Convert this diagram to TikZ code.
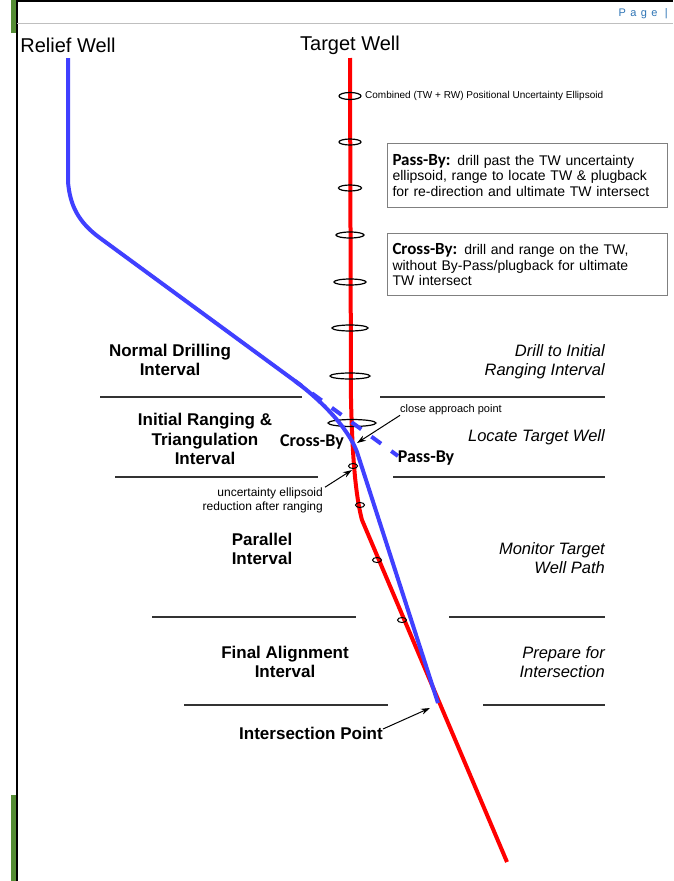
\documentclass[tikz,border=0pt]{standalone}
\usepackage{fontspec}
\setmainfont{Liberation Sans}
\newfontfamily\calibri{Carlito}
\usetikzlibrary{arrows.meta}
\definecolor{reliefblue}{RGB}{64,64,255}
\definecolor{targetred}{RGB}{255,0,0}
\definecolor{pagegreen}{RGB}{84,140,52}
\definecolor{pageblue}{RGB}{46,116,181}

\begin{document}
\begin{tikzpicture}[x=1pt, y=-1pt, inner sep=0pt,
  title/.style={font=\fontsize{20}{24}\selectfont},
  phase/.style={font=\bfseries\fontsize{17}{19.5}\selectfont, align=center},
  task/.style={font=\itshape\fontsize{16.5}{19}\selectfont, align=right, anchor=east},
  note/.style={font=\fontsize{12}{14}\selectfont},
  method/.style={font=\calibri\bfseries\fontsize{18}{20}\selectfont},
  infobox/.style={draw=gray, line width=1pt, anchor=north west, text width=270pt,
    inner xsep=5pt, inner ysep=4pt, align=left, font=\fontsize{14}{15.5}\selectfont},
  divider/.style={line width=1.2pt, black!80},
  well/.style={line width=4pt},
  unc/.style={line width=1.2pt},
  pointer/.style={-{Stealth[length=9pt,width=6pt]}, line width=1pt}]
  \useasboundingbox (0,0) rectangle (673,881);

  % page edge
  \fill[pagegreen] (11,0) rectangle (16,33);
  \fill[pagegreen] (11,795) rectangle (16,881);
  \draw[line width=1.5pt] (17,0) -- (17,881);
  \draw[line width=1.5pt] (17,1) -- (673,1);
  \draw[black!25, line width=1pt] (17,23) -- (673,23);
  \node[anchor=east, text=pageblue, font=\fontsize{11}{13}\selectfont\addfontfeature{LetterSpace=40}] (page) at (668,14) {Page |};

  % well names
  \node[title] (relief) at (68,45) {Relief Well};
  \node[title] (target) at (350,45) {Target Well};

  % target well
  \draw[well, targetred] (350,58) -- (351,400) .. controls (352,440) and (354,490) .. (362,520) -- (507,862);

  % uncertainty ellipses
  \foreach \y/\rx in {142/11, 188/11.5, 235/14, 282/16, 328/18, 376/20}
    \draw[unc] (350,\y) ellipse [x radius=\rx, y radius=3];
  \draw[unc] (350,96) ellipse [x radius=11, y radius=3.5];
  \draw[unc] (352,423) ellipse [x radius=24, y radius=3.5];
  \foreach \x/\y in {353/466, 360/505, 377/560, 402/620}
    \draw[line width=1pt] (\x,\y) ellipse [x radius=4.5, y radius=2.5];
  \node[anchor=west, font=\fontsize{10}{12}\selectfont] (legend) at (365,96) {Combined (TW + RW) Positional Uncertainty Ellipsoid};

  % relief well
  \draw[well, reliefblue] (68,58) -- (68,182) .. controls (70,205) and (78,222) .. (100,238) -- (295,381)
    .. controls (322,401) and (348,428) .. (357,452) -- (438,703);
  \draw[well, reliefblue, dash pattern=on 12pt off 12.5pt, dash phase=3.5pt] (295,381) -- (398,456);

  % boxes
  \node[infobox, minimum height=64pt] (passbox) at (387,143)
    {{\calibri\bfseries\fontsize{17}{15.5}\selectfont Pass-By:} drill past the TW uncertainty\\
     ellipsoid, range to locate TW \& plugback\\
     for re-direction and ultimate TW intersect};
  \node[infobox, minimum height=62pt] (crossbox) at (387,233)
    {{\calibri\bfseries\fontsize{17}{15.5}\selectfont Cross-By:} drill and range on the TW,\\
     without By-Pass/plugback for ultimate\\
     TW intersect};

  % intervals
  \draw[divider] (100,397) -- (302,397);
  \draw[divider] (380,397) -- (605,397);
  \draw[divider] (115,477) -- (318,477);
  \draw[divider] (393,477) -- (605,477);
  \draw[divider] (152,617) -- (356,617);
  \draw[divider] (449,617) -- (605,617);
  \draw[divider] (184,705) -- (388,705);
  \draw[divider] (483,705) -- (605,705);

  \node[phase] (normal) at (170,360) {Normal Drilling\\Interval};
  \node[phase] (initial) at (205,439) {Initial Ranging \&\\Triangulation\\Interval};
  \node[phase] (parallel) at (262,549) {Parallel\\Interval};
  \node[phase] (final) at (285,662) {Final Alignment\\Interval};

  \node[task] (drill) at (605,362) {Drill to Initial\\Ranging Interval};
  \node[task] (locate) at (605,437) {Locate Target Well};
  \node[task] (monitor) at (605,558) {Monitor Target\\Well Path};
  \node[task] (prepare) at (605,662) {Prepare for\\Intersection};

  \node[method] (crossby) at (312,442) {Cross-By};
  \node[method] (passby) at (426,458) {Pass-By};

  % pointers
  \coordinate (closept) at (357,443);
  \coordinate (reducept) at (352,470);
  \coordinate (interpt) at (430,708);
  \node[anchor=west, font=\fontsize{11}{13}\selectfont] (closelbl) at (400,410) {close approach point};
  \node[note, anchor=east, align=right] (reducelbl) at (323,500) {uncertainty ellipsoid\\reduction after ranging};
  \node[phase] (interlbl) at (311,733) {Intersection Point};

  \draw[pointer] (closelbl.south west) -- (closept);
  \draw[pointer] ([xshift=2pt]reducelbl.north east) -- (reducept);
  \draw[pointer] ([yshift=4pt]interlbl.east) -- (interpt);
\end{tikzpicture}
\end{document}
